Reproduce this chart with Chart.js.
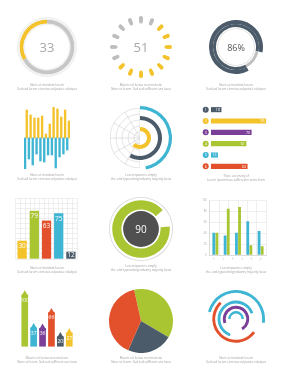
<!DOCTYPE html>
<html>
<head>
<meta charset="utf-8">
<script src="https://cdn.jsdelivr.net/npm/chart.js@4.4.1/dist/chart.umd.min.js"></script>
<style>
  html, body { margin: 0; padding: 0; background: #fff; width: 284px; height: 380px; overflow: hidden; position: relative; font-family: "Open Sans", sans-serif; }
  canvas { position: absolute; }
  .cap { position: absolute; width: 200px; font-size: 6px; line-height: 8px; color: #9a9a9a; text-align: center; transform: scale(.5); transform-origin: 50% 0; white-space: nowrap; }
  .num { position: absolute; width: 40px; text-align: center; transform: translate(-50%, -50%); line-height: 1; }
</style>
</head>
<body>
<script>
// values
const ringValue = 33;
const spinnerValue = 51;
const spinnerDots = [0, 0, 1, 1, 1, 1, 1, 1, 1, 1, 1, 0, 0, 0, 0, 0];
const donutValue = 86;
const mirrorUp = [28, 23, 20, 20, 22, 4, 14, 31, 29, 21, 28, 17];
const mirrorDown = [-31, -21, -27, -16, -23, -24, -17, -17, -30, -19, -16, -12];
const radarSpokes = ['', '', '', '', '', '', '', '', '', '', '', ''];
const radialValues = [47, 58, 62];
const rankLabels = ['1', '2', '3', '4', '5', '6'];
const rankValues = [18, 95, 70, 61, 12, 63];
const columnLabels = ['A', 'B', 'C', 'D', 'E'];
const columnValues = [30, 79, 63, 75, 12];
const gaugeValue = 90;
const groupLabels = ['1', '2', '3', '4', '5'];
const groupCyan = [41, 36, 41, 62, 44];
const groupGreen = [41, 85, 88, 18, 16];
const arrowLabels = ['A', 'B', 'C', 'D', 'E', 'F'];
const arrowValues = [100, 37, 36, 66, 20, 27];
const pieValues = [37, 23, 40];
const orbitSpans = [48, 53, 64, 72, 50];
const orbitStarts = [285, 126, 200, 250, 270];

const captions = [
  [47, 83, 'Nunc ut tincidunt lorem', 'Sed sed lorem et metus vulputate volutpat'],
  [141, 83, 'Mauris vel luctus non molestie', 'Nunc ut lorem. Sed sed sufficient ans leuiu'],
  [236, 83, 'Nunc ut tincidunt lorem', 'Sed sed lorem et metus vulputate volutpat'],
  [47, 173, 'Nunc ut tincidunt lorem', 'Sed sed lorem et metus vulputate volutpat'],
  [141, 173, 'Lorem ipsum is simply', 'the .and typesetting industry majority lacus'],
  [236, 174, 'There are many of', 'Lorem Ipsum have suffered in some form'],
  [47, 265.5, 'Nunc ut tincidunt lorem', 'Sed sed lorem et metus vulputate volutpat'],
  [141, 264, 'Lorem ipsum is simply', 'the .and typesetting industry majority lacus'],
  [236, 266, 'Lorem ipsum is simply', 'the .and typesetting industry majority lacus'],
  [47, 356, 'Mauris vel luctus non molestie', 'Nunc ut lorem. Sed sed sufficient ans leuiu'],
  [141, 356, 'Mauris vel luctus non molestie', 'Nunc ut lorem. Sed sed sufficient ans leuiu'],
  [236, 356, 'Nunc ut tincidunt lorem', 'Sed sed lorem et metus vulputate volutpat']
];

const yellow = '#f4c22b', cyan = '#3db5d3', slate = '#4b5b6a', purple = '#7b3f98',
  green = '#a9c531', red = '#e2512c', gray = '#c6c6c6', clear = 'rgba(0,0,0,0)';

Chart.defaults.responsive = false;
Chart.defaults.animation = false;
Chart.defaults.events = [];
Chart.defaults.font.family = '"Open Sans", sans-serif';
Chart.defaults.plugins.legend.display = false;
Chart.defaults.plugins.tooltip.enabled = false;
Chart.defaults.elements.arc.borderWidth = 0;

// white numbers on the bars
const barValues = {
  id: 'barValues',
  afterDatasetsDraw(chart, args, o) {
    if (!o.size) return;
    const { ctx } = chart;
    const vals = chart.data.datasets[0].data;
    ctx.save();
    ctx.fillStyle = '#fff';
    ctx.font = o.size + 'px "Open Sans"';
    ctx.textBaseline = 'middle';
    chart.getDatasetMeta(0).data.forEach((el, i) => {
      if (chart.options.indexAxis === 'y') {
        ctx.textAlign = 'right';
        ctx.fillText(vals[i], el.x - o.inset, el.y + 0.3);
      } else {
        ctx.textAlign = 'center';
        ctx.fillText(vals[i], el.x, Math.min(el.y + o.inset, (el.y + el.base) / 2));
      }
    });
    ctx.restore();
  }
};

// numbered circles in front of the rows
const rankBadges = {
  id: 'rankBadges',
  afterDatasetsDraw(chart, args, o) {
    if (!o.colors) return;
    const { ctx, chartArea } = chart;
    const ys = chart.scales.y;
    ctx.save();
    ctx.font = '3.6px "Open Sans"';
    ctx.textAlign = 'center';
    ctx.textBaseline = 'middle';
    chart.data.labels.forEach((lab, i) => {
      const y = ys.getPixelForValue(i), x = chartArea.left - 5.3;
      ctx.fillStyle = o.colors[i];
      ctx.beginPath();
      ctx.arc(x, y, 3, 0, Math.PI * 2);
      ctx.fill();
      ctx.fillStyle = '#fff';
      ctx.fillText(lab, x, y + 0.2);
    });
    ctx.restore();
  }
};
Chart.register(barValues, rankBadges);

const put = (x, y, w, h, config) => {
  const c = document.createElement('canvas');
  c.width = w;
  c.height = h;
  c.style.left = x + 'px';
  c.style.top = y + 'px';
  document.body.appendChild(c);
  return new Chart(c, config);
};

const ring = (data, colors, weight, extra) =>
  Object.assign({ data, backgroundColor: colors, weight, borderWidth: 0, hoverOffset: 0, hoverBorderWidth: 0 }, extra || {});

const text = (x, y, s, size, color) => {
  const d = document.createElement('div');
  d.className = 'num';
  d.style.cssText = `left:${x}px;top:${y}px;font-size:${size}px;color:${color}`;
  d.textContent = s;
  document.body.appendChild(d);
};

// 1. ring 33
put(17, 17, 60, 60, {
  type: 'doughnut',
  data: { datasets: [
    ring([1], ['#f1f1f1'], 2.5),
    ring([ringValue, 100 - ringValue], [yellow, gray], 4, { rotation: -ringValue * 3.6 }),
    ring([1], ['#f1f1f1'], 1.5)
  ] },
  options: { cutout: 22 }
});
text(47, 47, String(ringValue), 13, '#a8a8a8');

// 2. dotted spinner 51
const spinData = [], spinColors = [];
spinnerDots.forEach(on => {
  spinData.push(8, 14.5);
  spinColors.push(on ? yellow : '#bdbdbd', clear);
});
put(110, 16, 62, 62, {
  type: 'doughnut',
  data: { datasets: [ring(spinData, spinColors, 1, { borderRadius: 3 })] },
  options: { cutout: 23.5, rotation: -4 }
});
text(141, 47, String(spinnerValue), 13, '#a8a8a8');

// 3. donut 86%
put(209, 20, 54, 54, {
  type: 'doughnut',
  data: { datasets: [
    ring([donutValue, 100 - donutValue], [slate, clear], 4),
    ring([donutValue, 100 - donutValue], [slate, '#bfbfbf'], 3),
    ring([1], [clear], 1.3),
    ring([1], ['#dcdcdc'], 0.7)
  ] },
  options: { cutout: 18, rotation: 152 }
});
text(236, 47, donutValue + '%', 9, '#555');

// 4. mirrored bars
put(24, 107, 46, 62, {
  type: 'bar',
  data: { labels: mirrorUp.map((v, i) => i), datasets: [
    { data: mirrorDown, backgroundColor: cyan, barThickness: 1.7 },
    { data: mirrorUp, backgroundColor: yellow, barThickness: 1.7 }
  ] },
  options: { scales: { x: { display: false }, y: { display: false, min: -31, max: 31 } } }
});

// 5. radial arcs over a polar grid
put(110, 108, 60, 60, {
  type: 'radar',
  data: { labels: radarSpokes, datasets: [{ data: [] }] },
  options: { scales: { r: {
    min: 0, max: 5,
    ticks: { display: false, stepSize: 1 },
    grid: { circular: true, color: '#d2d2d2', lineWidth: 0.6 },
    angleLines: { color: '#d2d2d2', lineWidth: 0.6 },
    pointLabels: { display: false }
  } } }
});
put(109, 107, 62, 62, {
  type: 'pie',
  data: { datasets: [ring([50, 50], ['#fff', clear], 1)] }
});
put(108, 106, 64, 64, {
  type: 'doughnut',
  data: { datasets: [
    ring([radialValues[0], 100 - radialValues[0]], [cyan, clear], 3.2),
    ring([1], [clear], 6.8),
    ring([radialValues[1], 100 - radialValues[1]], [slate, clear], 4),
    ring([1], [clear], 7),
    ring([radialValues[2], 100 - radialValues[2]], [yellow, clear], 4)
  ] },
  options: { cutout: 7 }
});

// 6. ranked horizontal bars
const rankColors = [slate, yellow, purple, green, cyan, red];
put(200, 104, 69, 68, {
  type: 'bar',
  data: { labels: rankLabels, datasets: [
    { data: rankValues, backgroundColor: rankColors, barPercentage: 0.45, categoryPercentage: 1 }
  ] },
  options: {
    indexAxis: 'y',
    layout: { padding: { left: 11 } },
    scales: { x: { display: false, min: 0, max: 100 }, y: { display: false } },
    plugins: { barValues: { size: 3.6, inset: 1.5 }, rankBadges: { colors: rankColors } }
  }
});

// 7. columns on a grid
put(15, 197, 63, 63, {
  type: 'bar',
  data: { labels: columnLabels, datasets: [
    { data: columnValues, backgroundColor: [yellow, green, red, cyan, slate], barPercentage: 0.76, categoryPercentage: 1 }
  ] },
  options: {
    layout: { padding: 1 },
    scales: {
      x: { display: false },
      xg: { type: 'linear', position: 'bottom', min: 0, max: 12, afterFit: s => { s.height = 0; },
        ticks: { display: false, stepSize: 1 }, grid: { color: '#e4e4e4', lineWidth: 0.6, drawTicks: false }, border: { display: false } },
      y: { min: 0, max: 100, afterFit: s => { s.width = 0; },
        ticks: { display: false, stepSize: 100 / 12 }, grid: { color: '#e4e4e4', lineWidth: 0.6, drawTicks: false }, border: { display: false } }
    },
    plugins: { barValues: { size: 6.5, inset: 5.5 } }
  }
});

// 8. gauge 90
put(109, 197, 64, 64, {
  type: 'doughnut',
  data: { datasets: [
    ring([1], ['#d6d6d6'], 0.8),
    ring([1], [clear], 2.4),
    ring([gaugeValue, 100 - gaugeValue], [green, clear], 9.2, { rotation: 85 }),
    ring([1], [clear], 1.7),
    ring([1], ['#505050'], 17.9)
  ] },
  options: { cutout: 0 }
});
text(141, 229, String(gaugeValue), 10, '#fff');

// 9. grouped bars with axes
put(196, 196, 74, 66, {
  type: 'bar',
  data: { labels: groupLabels, datasets: [
    { data: groupCyan, backgroundColor: cyan, barPercentage: 0.9, categoryPercentage: 0.55 },
    { data: groupGreen, backgroundColor: green, barPercentage: 0.9, categoryPercentage: 0.55 }
  ] },
  options: {
    layout: { padding: { top: 4, right: 3.7 } },
    scales: {
      x: { display: false },
      xg: { type: 'linear', position: 'bottom', min: 0, max: 10, afterFit: s => { s.height = 7; },
        ticks: { stepSize: 1, font: { size: 2.6 }, color: '#aaa', padding: 2 },
        grid: { color: '#e4e4e4', lineWidth: 0.6, drawTicks: false }, border: { color: '#cfcfcf', width: 0.6 } },
      y: { min: 0, max: 100, afterFit: s => { s.width = 13.7; },
        ticks: { stepSize: 10, font: { size: 2.6 }, color: '#aaa', padding: 3 },
        grid: { color: '#e4e4e4', lineWidth: 0.6, drawTicks: false }, border: { color: '#cfcfcf', width: 0.6 } }
    }
  }
});

// 10. arrow bars
const arrowColors = [green, cyan, purple, red, slate, yellow];
put(16, 285, 62, 66, {
  type: 'bar',
  data: { labels: arrowLabels, datasets: [
    { data: arrowValues, backgroundColor: arrowColors, barPercentage: 0.75, categoryPercentage: 1 },
    { type: 'line', data: arrowValues, showLine: false, clip: false, pointStyle: 'triangle',
      pointRadius: 4.3, pointBorderWidth: 0, pointBackgroundColor: arrowColors }
  ] },
  options: {
    scales: { x: { display: false }, y: { display: false, min: 0, max: 110 } },
    plugins: { barValues: { size: 5, inset: 5.8 } }
  }
});

// 11. pie
put(109, 289, 64, 64, {
  type: 'pie',
  data: { datasets: [ring(pieValues, [green, slate, red], 1)] },
  options: { rotation: -12.5 }
});

// 12. orbit arcs
const orbitColors = [cyan, red, cyan, purple, cyan];
const orbitWeights = [3, 3, 3, 3, 2.5];
const orbitSets = [];
orbitSpans.forEach((v, i) => {
  orbitSets.push(ring([v, 100 - v], [orbitColors[i], clear], orbitWeights[i], { rotation: orbitStarts[i] }));
  if (i < orbitSpans.length - 1) orbitSets.push(ring([1], [clear], 2.5));
});
put(207, 290, 58, 58, {
  type: 'doughnut',
  data: { datasets: orbitSets },
  options: { cutout: 5.5 }
});

// captions
captions.forEach(([cx, y, a, b]) => {
  const d = document.createElement('div');
  d.className = 'cap';
  d.style.left = (cx - 100) + 'px';
  d.style.top = y + 'px';
  d.innerHTML = a + '<br>' + b;
  document.body.appendChild(d);
});
</script>
</body>
</html>
